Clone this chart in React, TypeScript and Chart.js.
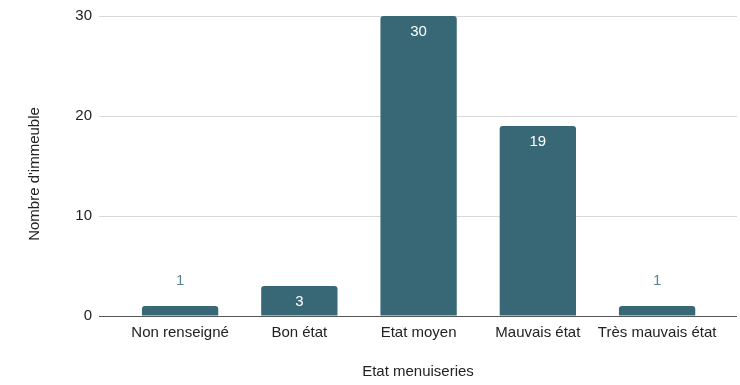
import React, { useEffect, useRef } from "react";
import { Chart, registerables } from "chart.js";

Chart.register(...registerables);

const categories = ["Non renseigné", "Bon état", "Etat moyen", "Mauvais état", "Très mauvais état"];
const counts = [1, 3, 30, 19, 1];
const yTicks = [0, 10, 20, 30];
const xTitle = "Etat menuiseries";
const yTitle = "Nombre d'immeuble";

const BAR_COLOR = "#386875";
const FONT = "'Liberation Sans', Arial, sans-serif";
const FONT_SIZE = 15;

// Writes each count on its bar: inside in white when the bar is tall enough, above it otherwise.
const valueLabels = {
  id: "valueLabels",
  afterDatasetsDraw(chart: any) {
    const ctx = chart.ctx;
    const meta = chart.getDatasetMeta(0);
    ctx.save();
    ctx.font = `${FONT_SIZE}px ${FONT}`;
    ctx.textAlign = "center";
    ctx.textBaseline = "middle";
    meta.data.forEach((bar: any, i: number) => {
      const value = counts[i];
      const height = bar.base - bar.y;
      if (height > 20) {
        ctx.fillStyle = "#ffffff";
        ctx.fillText(String(value), bar.x, bar.y + 16);
      } else {
        ctx.fillStyle = "#5a8693";
        ctx.fillText(String(value), bar.x, bar.y - 25);
      }
    });
    ctx.restore();
  },
};

// Vertical axis title, set a little below the middle of the plot area.
const yAxisTitle = {
  id: "yAxisTitle",
  afterDraw(chart: any) {
    const { ctx, chartArea } = chart;
    const cy = (chartArea.top + chartArea.bottom) / 2 + 8;
    ctx.save();
    ctx.translate(35, cy);
    ctx.rotate(-Math.PI / 2);
    ctx.font = `${FONT_SIZE}px ${FONT}`;
    ctx.fillStyle = "#222222";
    ctx.textAlign = "center";
    ctx.textBaseline = "middle";
    ctx.fillText(yTitle, 0, 0);
    ctx.restore();
  },
};

export default function App() {
  const canvasRef = useRef<HTMLCanvasElement | null>(null);

  useEffect(() => {
    if (!canvasRef.current) return;
    const chart = new Chart(canvasRef.current, {
      type: "bar",
      data: {
        datasets: [
          {
            data: counts.map((v, i) => ({ x: i, y: v })),
            backgroundColor: BAR_COLOR,
            borderRadius: { topLeft: 3, topRight: 3, bottomLeft: 0, bottomRight: 0 },
            borderSkipped: "bottom",
            categoryPercentage: 1,
            barPercentage: 0.64,
          },
        ],
      },
      options: {
        responsive: false,
        animation: false,
        layout: { padding: { left: 0, right: 3, top: 14, bottom: 0 } },
        plugins: {
          legend: { display: false },
          tooltip: { enabled: false },
        },
        scales: {
          x: {
            type: "linear",
            min: -0.68,
            max: 4.67,
            offset: false,
            grid: { display: false, offset: false, drawTicks: false },
            border: { display: false },
            afterBuildTicks(scale: any) {
              scale.ticks = categories.map((_, i) => ({ value: i }));
            },
            afterFit(scale: any) {
              scale.height = 69;
            },
            ticks: {
              autoSkip: false,
              maxRotation: 0,
              padding: 8,
              color: "#222222",
              font: { family: FONT, size: FONT_SIZE },
              callback: (value: any) => categories[Number(value)] ?? "",
            },
            title: {
              display: true,
              text: xTitle,
              color: "#222222",
              font: { family: FONT, size: FONT_SIZE },
              padding: { top: 4, bottom: 4 },
            },
          },
          y: {
            min: 0,
            max: 30,
            border: { display: false },
            afterBuildTicks(scale: any) {
              scale.ticks = yTicks.map((v) => ({ value: v }));
            },
            afterFit(scale: any) {
              scale.width = 99;
            },
            grid: {
              drawTicks: false,
              color: (c: any) => (c.tick && c.tick.value === 0 ? "#555555" : "#d9d9d9"),
              lineWidth: 1,
            },
            ticks: {
              padding: 7,
              color: "#222222",
              font: { family: FONT, size: FONT_SIZE },
            },
          },
        },
      },
      plugins: [valueLabels, yAxisTitle],
    });
    return () => chart.destroy();
  }, []);

  return (
    <div style={{ position: "absolute", left: 0, top: 0, width: 740, height: 385, background: "#ffffff" }}>
      <canvas ref={canvasRef} width={740} height={385} style={{ display: "block" }} />
    </div>
  );
}
